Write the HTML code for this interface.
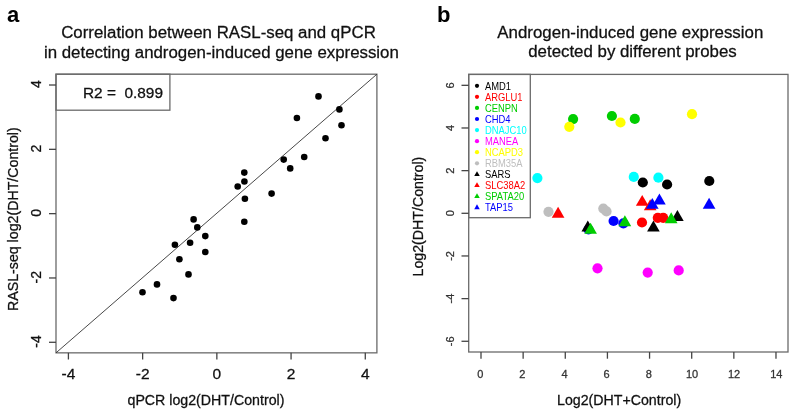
<!DOCTYPE html>
<html><head><meta charset="utf-8"><style>
html,body{margin:0;padding:0;background:#fff;}
body{width:795px;height:413px;overflow:hidden;}
svg{display:block;will-change:transform;}
text{font-family:"Liberation Sans", sans-serif;}
</style></head><body>
<svg width="795" height="413" viewBox="0 0 795 413">
<rect width="795" height="413" fill="#fff"/>
<text x="7" y="21.8" font-size="22" font-weight="bold" fill="#000">a</text>
<text stroke="#111" stroke-width="0.28" x="218.5" y="37.7" font-size="16.85" text-anchor="middle" fill="#111">Correlation between RASL-seq and qPCR</text>
<text stroke="#111" stroke-width="0.28" x="221.4" y="57.6" font-size="16.85" text-anchor="middle" fill="#111">in detecting androgen-induced gene expression</text>
<rect x="56.0" y="74.2" width="320.90" height="278.65" fill="none" stroke="#6a6a6a" stroke-width="1.3"/>
<rect x="56.0" y="74.2" width="113.90" height="36.00" fill="none" stroke="#6a6a6a" stroke-width="1.3"/>
<line x1="56.0" y1="352.85" x2="376.9" y2="74.2" stroke="#333" stroke-width="0.9"/>
<line x1="49" y1="342.29" x2="56.0" y2="342.29" stroke="#444" stroke-width="1.3"/>
<text stroke="#111" stroke-width="0.28" transform="translate(40.8,341.49) rotate(-90)" font-size="14" text-anchor="middle" fill="#111">-4</text>
<line x1="49" y1="277.97" x2="56.0" y2="277.97" stroke="#444" stroke-width="1.3"/>
<text stroke="#111" stroke-width="0.28" transform="translate(40.8,277.17) rotate(-90)" font-size="14" text-anchor="middle" fill="#111">-2</text>
<line x1="49" y1="213.65" x2="56.0" y2="213.65" stroke="#444" stroke-width="1.3"/>
<text stroke="#111" stroke-width="0.28" transform="translate(40.8,212.85) rotate(-90)" font-size="14" text-anchor="middle" fill="#111">0</text>
<line x1="49" y1="149.33" x2="56.0" y2="149.33" stroke="#444" stroke-width="1.3"/>
<text stroke="#111" stroke-width="0.28" transform="translate(40.8,148.53) rotate(-90)" font-size="14" text-anchor="middle" fill="#111">2</text>
<line x1="49" y1="85.01" x2="56.0" y2="85.01" stroke="#444" stroke-width="1.3"/>
<text stroke="#111" stroke-width="0.28" transform="translate(40.8,84.21) rotate(-90)" font-size="14" text-anchor="middle" fill="#111">4</text>
<line x1="68.41" y1="352.85" x2="68.41" y2="359.5" stroke="#444" stroke-width="1.3"/>
<text stroke="#111" stroke-width="0.28" x="68.41" y="379.4" font-size="15.5" text-anchor="middle" fill="#111">-4</text>
<line x1="142.63" y1="352.85" x2="142.63" y2="359.5" stroke="#444" stroke-width="1.3"/>
<text stroke="#111" stroke-width="0.28" x="142.63" y="379.4" font-size="15.5" text-anchor="middle" fill="#111">-2</text>
<line x1="216.85" y1="352.85" x2="216.85" y2="359.5" stroke="#444" stroke-width="1.3"/>
<text stroke="#111" stroke-width="0.28" x="216.85" y="379.4" font-size="15.5" text-anchor="middle" fill="#111">0</text>
<line x1="291.07" y1="352.85" x2="291.07" y2="359.5" stroke="#444" stroke-width="1.3"/>
<text stroke="#111" stroke-width="0.28" x="291.07" y="379.4" font-size="15.5" text-anchor="middle" fill="#111">2</text>
<line x1="365.29" y1="352.85" x2="365.29" y2="359.5" stroke="#444" stroke-width="1.3"/>
<text stroke="#111" stroke-width="0.28" x="365.29" y="379.4" font-size="15.5" text-anchor="middle" fill="#111">4</text>
<text stroke="#111" stroke-width="0.28" x="83" y="98.1" font-size="14.3" fill="#111" xml:space="preserve" textLength="80" lengthAdjust="spacingAndGlyphs">R2 =  0.899</text>
<text stroke="#111" stroke-width="0.28" x="127.5" y="404.9" font-size="14.2" fill="#111">qPCR log2(DHT/Control)</text>
<text stroke="#111" stroke-width="0.28" transform="translate(17.5,311) rotate(-90)" font-size="14.2" fill="#111">RASL-seq log2(DHT/Control)</text>
<circle cx="142.5" cy="292.3" r="3.3" fill="#000"/>
<circle cx="157" cy="284.4" r="3.3" fill="#000"/>
<circle cx="173.5" cy="298.1" r="3.3" fill="#000"/>
<circle cx="188.5" cy="274.4" r="3.3" fill="#000"/>
<circle cx="179.4" cy="259.2" r="3.3" fill="#000"/>
<circle cx="174.9" cy="244.7" r="3.3" fill="#000"/>
<circle cx="190.1" cy="242.8" r="3.3" fill="#000"/>
<circle cx="205.3" cy="236.1" r="3.3" fill="#000"/>
<circle cx="205.3" cy="252" r="3.3" fill="#000"/>
<circle cx="193.6" cy="219.4" r="3.3" fill="#000"/>
<circle cx="197.3" cy="227.4" r="3.3" fill="#000"/>
<circle cx="244.3" cy="172.6" r="3.3" fill="#000"/>
<circle cx="244.4" cy="181.5" r="3.3" fill="#000"/>
<circle cx="237.7" cy="186.5" r="3.3" fill="#000"/>
<circle cx="244.9" cy="198.8" r="3.3" fill="#000"/>
<circle cx="244.3" cy="221.8" r="3.3" fill="#000"/>
<circle cx="271.6" cy="193.6" r="3.3" fill="#000"/>
<circle cx="283.7" cy="159.6" r="3.3" fill="#000"/>
<circle cx="304.2" cy="157" r="3.3" fill="#000"/>
<circle cx="290.2" cy="168.4" r="3.3" fill="#000"/>
<circle cx="325.5" cy="138.2" r="3.3" fill="#000"/>
<circle cx="341.5" cy="125.2" r="3.3" fill="#000"/>
<circle cx="339.4" cy="109.4" r="3.3" fill="#000"/>
<circle cx="318.5" cy="96.4" r="3.3" fill="#000"/>
<circle cx="296.9" cy="118" r="3.3" fill="#000"/>
<text x="437" y="21.8" font-size="22" font-weight="bold" fill="#000">b</text>
<text stroke="#111" stroke-width="0.28" x="630.3" y="37.9" font-size="16.85" text-anchor="middle" fill="#111">Androgen-induced gene expression</text>
<text stroke="#111" stroke-width="0.28" x="632.5" y="57.1" font-size="16.85" text-anchor="middle" fill="#111">detected by different probes</text>
<rect x="468.7" y="74.4" width="319.30" height="277.60" fill="none" stroke="#6a6a6a" stroke-width="1.3"/>
<rect x="468.7" y="74.4" width="61.60" height="143.30" fill="none" stroke="#6a6a6a" stroke-width="1.3"/>
<line x1="461.5" y1="341.28" x2="468.7" y2="341.28" stroke="#444" stroke-width="1.3"/>
<text stroke="#333" stroke-width="0.28" transform="translate(454,341.28) rotate(-90)" font-size="11" text-anchor="middle" fill="#333">-6</text>
<line x1="461.5" y1="298.62" x2="468.7" y2="298.62" stroke="#444" stroke-width="1.3"/>
<text stroke="#333" stroke-width="0.28" transform="translate(454,298.62) rotate(-90)" font-size="11" text-anchor="middle" fill="#333">-4</text>
<line x1="461.5" y1="255.96" x2="468.7" y2="255.96" stroke="#444" stroke-width="1.3"/>
<text stroke="#333" stroke-width="0.28" transform="translate(454,255.96) rotate(-90)" font-size="11" text-anchor="middle" fill="#333">-2</text>
<line x1="461.5" y1="213.3" x2="468.7" y2="213.3" stroke="#444" stroke-width="1.3"/>
<text stroke="#333" stroke-width="0.28" transform="translate(454,213.30) rotate(-90)" font-size="11" text-anchor="middle" fill="#333">0</text>
<line x1="461.5" y1="170.64" x2="468.7" y2="170.64" stroke="#444" stroke-width="1.3"/>
<text stroke="#333" stroke-width="0.28" transform="translate(454,170.64) rotate(-90)" font-size="11" text-anchor="middle" fill="#333">2</text>
<line x1="461.5" y1="127.98" x2="468.7" y2="127.98" stroke="#444" stroke-width="1.3"/>
<text stroke="#333" stroke-width="0.28" transform="translate(454,127.98) rotate(-90)" font-size="11" text-anchor="middle" fill="#333">4</text>
<line x1="461.5" y1="85.32" x2="468.7" y2="85.32" stroke="#444" stroke-width="1.3"/>
<text stroke="#333" stroke-width="0.28" transform="translate(454,85.32) rotate(-90)" font-size="11" text-anchor="middle" fill="#333">6</text>
<line x1="481.0" y1="352.0" x2="481.0" y2="358.7" stroke="#444" stroke-width="1.3"/>
<text stroke="#333" stroke-width="0.28" x="480.20" y="378" font-size="11" text-anchor="middle" fill="#333">0</text>
<line x1="523.14" y1="352.0" x2="523.14" y2="358.7" stroke="#444" stroke-width="1.3"/>
<text stroke="#333" stroke-width="0.28" x="522.34" y="378" font-size="11" text-anchor="middle" fill="#333">2</text>
<line x1="565.28" y1="352.0" x2="565.28" y2="358.7" stroke="#444" stroke-width="1.3"/>
<text stroke="#333" stroke-width="0.28" x="564.48" y="378" font-size="11" text-anchor="middle" fill="#333">4</text>
<line x1="607.42" y1="352.0" x2="607.42" y2="358.7" stroke="#444" stroke-width="1.3"/>
<text stroke="#333" stroke-width="0.28" x="606.62" y="378" font-size="11" text-anchor="middle" fill="#333">6</text>
<line x1="649.56" y1="352.0" x2="649.56" y2="358.7" stroke="#444" stroke-width="1.3"/>
<text stroke="#333" stroke-width="0.28" x="648.76" y="378" font-size="11" text-anchor="middle" fill="#333">8</text>
<line x1="691.7" y1="352.0" x2="691.7" y2="358.7" stroke="#444" stroke-width="1.3"/>
<text stroke="#333" stroke-width="0.28" x="692.00" y="378" font-size="11" text-anchor="middle" fill="#333">10</text>
<line x1="733.84" y1="352.0" x2="733.84" y2="358.7" stroke="#444" stroke-width="1.3"/>
<text stroke="#333" stroke-width="0.28" x="734.14" y="378" font-size="11" text-anchor="middle" fill="#333">12</text>
<line x1="775.98" y1="352.0" x2="775.98" y2="358.7" stroke="#444" stroke-width="1.3"/>
<text stroke="#333" stroke-width="0.28" x="776.28" y="378" font-size="11" text-anchor="middle" fill="#333">14</text>
<text stroke="#111" stroke-width="0.28" x="557" y="404.6" font-size="14.2" fill="#111">Log2(DHT+Control)</text>
<text stroke="#111" stroke-width="0.28" transform="translate(422.5,276.5) rotate(-90)" font-size="14.2" fill="#111">Log2(DHT/Control)</text>
<circle cx="477" cy="85.80" r="2.1" fill="#000000"/>
<text transform="translate(485,89.50) scale(0.94,1)" font-size="10" fill="#000000">AMD1</text>
<circle cx="477" cy="96.87" r="2.1" fill="#FF0000"/>
<text transform="translate(485,100.57) scale(0.94,1)" font-size="10" fill="#FF0000">ARGLU1</text>
<circle cx="477" cy="107.94" r="2.1" fill="#00CD00"/>
<text transform="translate(485,111.64) scale(0.94,1)" font-size="10" fill="#00CD00">CENPN</text>
<circle cx="477" cy="119.01" r="2.1" fill="#0000FF"/>
<text transform="translate(485,122.71) scale(0.94,1)" font-size="10" fill="#0000FF">CHD4</text>
<circle cx="477" cy="130.08" r="2.1" fill="#00FFFF"/>
<text transform="translate(485,133.78) scale(0.94,1)" font-size="10" fill="#00FFFF">DNAJC10</text>
<circle cx="477" cy="141.15" r="2.1" fill="#FF00FF"/>
<text transform="translate(485,144.85) scale(0.94,1)" font-size="10" fill="#FF00FF">MANEA</text>
<circle cx="477" cy="152.22" r="2.1" fill="#FFFF00"/>
<text transform="translate(485,155.92) scale(0.94,1)" font-size="10" fill="#FFFF00">NCAPD3</text>
<circle cx="477" cy="163.29" r="2.1" fill="#BEBEBE"/>
<text transform="translate(485,166.99) scale(0.94,1)" font-size="10" fill="#BEBEBE">RBM35A</text>
<polygon points="477,171.16 479.77,175.96 474.23,175.96" fill="#000000"/>
<text transform="translate(485,178.06) scale(0.94,1)" font-size="10" fill="#000000">SARS</text>
<polygon points="477,182.23 479.77,187.03 474.23,187.03" fill="#FF0000"/>
<text transform="translate(485,189.13) scale(0.94,1)" font-size="10" fill="#FF0000">SLC38A2</text>
<polygon points="477,193.30 479.77,198.10 474.23,198.10" fill="#00CD00"/>
<text transform="translate(485,200.20) scale(0.94,1)" font-size="10" fill="#00CD00">SPATA20</text>
<polygon points="477,204.37 479.77,209.17 474.23,209.17" fill="#0000FF"/>
<text transform="translate(485,211.27) scale(0.94,1)" font-size="10" fill="#0000FF">TAP15</text>
<circle cx="642.8" cy="182.5" r="5.1" fill="#000000"/>
<circle cx="667.1" cy="184.5" r="5.1" fill="#000000"/>
<circle cx="709.3" cy="181" r="5.1" fill="#000000"/>
<circle cx="642" cy="222.5" r="5.1" fill="#FF0000"/>
<circle cx="657.8" cy="217.8" r="5.1" fill="#FF0000"/>
<circle cx="663.2" cy="217.8" r="5.1" fill="#FF0000"/>
<circle cx="573.1" cy="119.1" r="5.1" fill="#00CD00"/>
<circle cx="611.9" cy="116" r="5.1" fill="#00CD00"/>
<circle cx="634.8" cy="118.9" r="5.1" fill="#00CD00"/>
<circle cx="588.5" cy="229.5" r="5.1" fill="#0000FF"/>
<circle cx="613.6" cy="221" r="5.1" fill="#0000FF"/>
<circle cx="623.4" cy="223.4" r="5.1" fill="#0000FF"/>
<circle cx="537.4" cy="178.1" r="5.1" fill="#00FFFF"/>
<circle cx="633.8" cy="176.9" r="5.1" fill="#00FFFF"/>
<circle cx="658.4" cy="177.7" r="5.1" fill="#00FFFF"/>
<circle cx="597.5" cy="268.3" r="5.1" fill="#FF00FF"/>
<circle cx="647.7" cy="272.6" r="5.1" fill="#FF00FF"/>
<circle cx="678.7" cy="270.4" r="5.1" fill="#FF00FF"/>
<circle cx="569.3" cy="126.8" r="5.1" fill="#FFFF00"/>
<circle cx="620.5" cy="122.5" r="5.1" fill="#FFFF00"/>
<circle cx="692" cy="114.2" r="5.1" fill="#FFFF00"/>
<circle cx="548.5" cy="211.8" r="5.1" fill="#BEBEBE"/>
<circle cx="603.3" cy="208.6" r="5.1" fill="#BEBEBE"/>
<circle cx="606.5" cy="211.4" r="5.1" fill="#BEBEBE"/>
<polygon points="587.80,220.50 594.12,231.45 581.48,231.45" fill="#000000"/>
<polygon points="653.40,220.60 659.72,231.55 647.08,231.55" fill="#000000"/>
<polygon points="677.40,210.00 683.72,220.95 671.08,220.95" fill="#000000"/>
<polygon points="558.10,206.70 564.42,217.65 551.78,217.65" fill="#FF0000"/>
<polygon points="642.20,194.90 648.52,205.85 635.88,205.85" fill="#FF0000"/>
<polygon points="650.20,199.30 656.52,210.25 643.88,210.25" fill="#FF0000"/>
<polygon points="590.60,222.70 596.92,233.65 584.28,233.65" fill="#00CD00"/>
<polygon points="624.90,215.20 631.22,226.15 618.58,226.15" fill="#00CD00"/>
<polygon points="671.20,212.20 677.52,223.15 664.88,223.15" fill="#00CD00"/>
<polygon points="652.30,197.90 658.62,208.85 645.98,208.85" fill="#0000FF"/>
<polygon points="659.40,193.50 665.72,204.45 653.08,204.45" fill="#0000FF"/>
<polygon points="709.10,197.70 715.42,208.65 702.78,208.65" fill="#0000FF"/>
</svg>
</body></html>
